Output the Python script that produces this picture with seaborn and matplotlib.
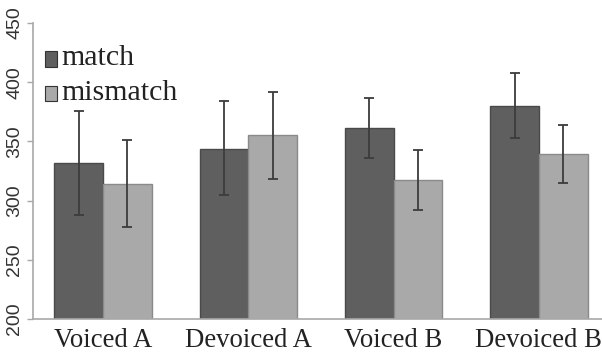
import matplotlib
matplotlib.use("Agg")
import matplotlib.pyplot as plt
from matplotlib.patches import Rectangle
from matplotlib.legend_handler import HandlerPatch
import seaborn as sns
import pandas as pd
import numpy as np

# Reaction times by condition and congruence
conditions = ["Voiced A", "Devoiced A", "Voiced B", "Devoiced B"]
groups = ["match", "mismatch"]
match_mean = [332, 344, 361, 380]
match_lo = [288, 305, 336, 353]
match_hi = [376, 384, 387, 408]
mismatch_mean = [314, 355, 317, 339]
mismatch_lo = [278, 318, 292, 315]
mismatch_hi = [351, 392, 343, 364]

df = pd.DataFrame({
    "condition": conditions * 2,
    "group": [groups[0]] * 4 + [groups[1]] * 4,
    "rt": match_mean + mismatch_mean,
})

sns.set_style("white")
fig = plt.figure(figsize=(6.02, 3.55), dpi=100)
ax = fig.add_axes([33 / 602, 1 - 319 / 355, 1 - 33 / 602, (319 - 23) / 355])

fill = {"match": "#5f5f5f", "mismatch": "#a9a9a9"}
edge = {"match": "#4a4a4a", "mismatch": "#8a8a8a"}

sns.barplot(data=df, x="condition", y="rt", hue="group", order=conditions,
            hue_order=groups, palette=fill, errorbar=None, width=0.669,
            saturation=1, ax=ax, legend=True)

lows = [match_lo, mismatch_lo]
highs = [match_hi, mismatch_hi]
bar_sets = list(ax.containers)
for k, cont in enumerate(bar_sets):
    xs = []
    for p in cont.patches:
        p.set_edgecolor(edge[groups[k]])
        p.set_linewidth(1.0)
        xs.append(p.get_x() + p.get_width() / 2)
    means = [p.get_height() for p in cont.patches]
    lo = np.array(means) - np.array(lows[k])
    hi = np.array(highs[k]) - np.array(means)
    ax.errorbar(xs, means, yerr=[lo, hi], fmt="none", ecolor="#3c3c3c",
                elinewidth=1.3, capsize=3.6, capthick=1.3, zorder=5)

ax.set_ylim(200, 450)
ax.set_yticks([200, 250, 300, 350, 400, 450])
ax.set_xlim(-0.4817, 3.434)
ax.set_xlabel("")
ax.set_ylabel("")

for s in ["top", "right"]:
    ax.spines[s].set_visible(False)
for s in ["left", "bottom"]:
    ax.spines[s].set_color("#a8a8a8")
    ax.spines[s].set_linewidth(1.2)

ax.tick_params(axis="y", left=True, length=4, width=1.0, color="#a8a8a8",
               pad=3, labelsize=14, labelcolor="#333333")
ax.tick_params(axis="x", bottom=False, pad=3, labelsize=19.3, labelcolor="#222222")
for t in ax.get_yticklabels():
    t.set_rotation(90)
    t.set_va("center")
    t.set_fontfamily("Liberation Sans")
for t in ax.get_xticklabels():
    t.set_fontfamily("Liberation Serif")


def low_square(legend, orig_handle, xdescent, ydescent, width, height, fontsize):
    # legend swatch sitting on the text baseline
    return Rectangle((-xdescent, -ydescent - 3.2), width, height)


handles, labels = ax.get_legend_handles_labels()
leg = ax.legend(handles, labels, loc="upper left", bbox_to_anchor=(0.0, 0.965),
                frameon=False, prop={"family": "Liberation Serif", "size": 21.5},
                handlelength=0.42, handleheight=0.42, handletextpad=0.13,
                labelspacing=0.28, borderaxespad=0.0,
                handler_map={Rectangle: HandlerPatch(patch_func=low_square)})
for h, g in zip(leg.legend_handles, groups):
    h.set_facecolor(fill[g])
    h.set_edgecolor("#333333")
    h.set_linewidth(0.8)
for t in leg.get_texts():
    t.set_color("#222222")

fig.savefig("out.png", dpi=100)
